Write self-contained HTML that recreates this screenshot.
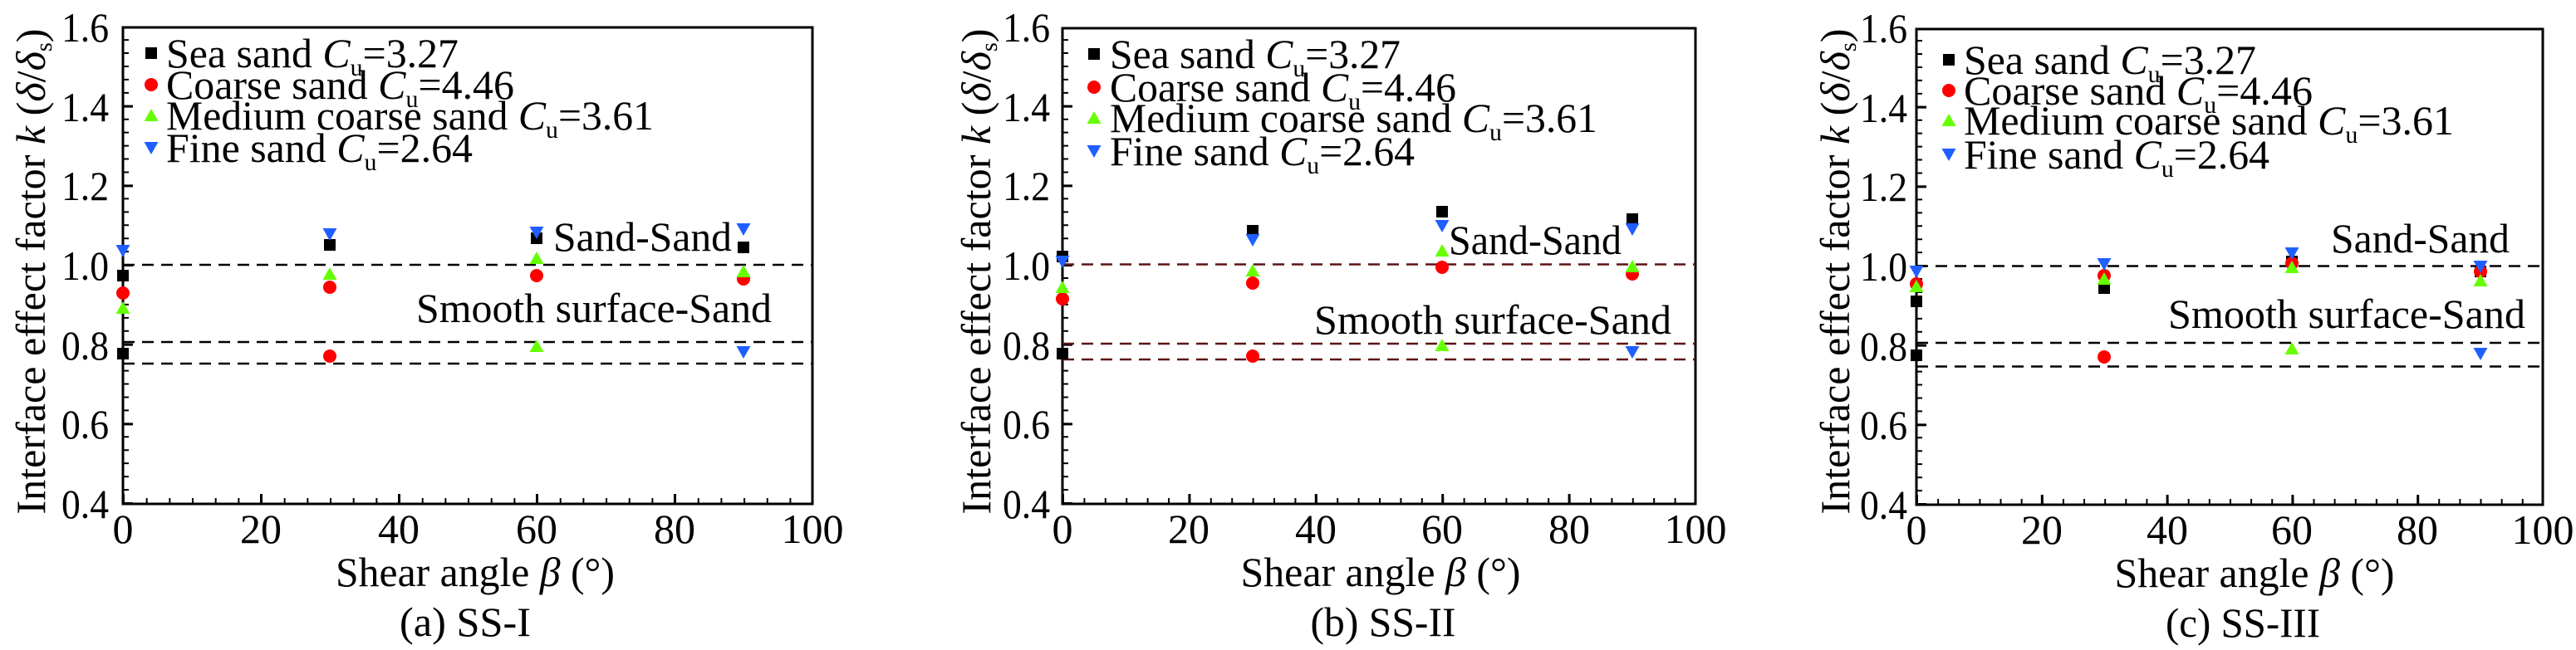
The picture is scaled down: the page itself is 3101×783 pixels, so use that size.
<!DOCTYPE html>
<html><head><meta charset="utf-8"><style>html,body{margin:0;padding:0;background:#fff}svg{display:block}svg text{font-family:"Liberation Serif",serif}</style></head><body>
<svg xmlns="http://www.w3.org/2000/svg" width="3101" height="783" viewBox="0 0 3101 783" font-family="'Liberation Serif', serif" font-size="50" fill="#000">
<defs>
<rect id="sq" x="-7" y="-7" width="14" height="14" fill="#000"/>
<circle id="ci" r="8" fill="#ff0000"/>
<path id="tu" d="M0,-8 L8.5,7 L-8.5,7Z" fill="#66ff00"/>
<path id="td" d="M0,8 L8.5,-7 L-8.5,-7Z" fill="#1f5fff"/>
</defs>

<!-- ========== Panel 1 ========== -->
<g>
<rect x="148" y="33" width="830" height="574" fill="none" stroke="#000" stroke-width="3"/>
<line x1="151.5" y1="607" x2="151.5" y2="33" stroke="#000" stroke-width="7" stroke-dasharray="2 13.94"/>
<line x1="154" y1="608" x2="154" y2="33" stroke="#000" stroke-width="12" stroke-dasharray="3 92.67"/>
<line x1="148" y1="603.5" x2="978" y2="603.5" stroke="#000" stroke-width="7" stroke-dasharray="2 25.67"/>
<line x1="147" y1="601" x2="978" y2="601" stroke="#000" stroke-width="12" stroke-dasharray="3 163"/>
<g text-anchor="end"><text x="131" y="624" textLength="57" lengthAdjust="spacingAndGlyphs">0.4</text><text x="131" y="528" textLength="57" lengthAdjust="spacingAndGlyphs">0.6</text><text x="131" y="433" textLength="57" lengthAdjust="spacingAndGlyphs">0.8</text><text x="131" y="337" textLength="57" lengthAdjust="spacingAndGlyphs">1.0</text><text x="131" y="241" textLength="57" lengthAdjust="spacingAndGlyphs">1.2</text><text x="131" y="146" textLength="57" lengthAdjust="spacingAndGlyphs">1.4</text><text x="131" y="50" textLength="57" lengthAdjust="spacingAndGlyphs">1.6</text></g>
<g text-anchor="middle"><text x="148" y="654">0</text><text x="314" y="654">20</text><text x="480" y="654">40</text><text x="646" y="654">60</text><text x="812" y="654">80</text><text x="978" y="654">100</text></g>
<text transform="translate(54,327) rotate(-90)" text-anchor="middle" textLength="585" lengthAdjust="spacingAndGlyphs">Interface effect factor <tspan font-style="italic">k</tspan> (<tspan font-style="italic">δ</tspan>/<tspan font-style="italic">δ</tspan><tspan font-size="28" dy="8">s</tspan><tspan dy="-8">)</tspan></text>
<text x="572" y="706" text-anchor="middle" textLength="336" lengthAdjust="spacingAndGlyphs">Shear angle <tspan font-style="italic">β</tspan> (°)</text>
<text x="560" y="766" text-anchor="middle" textLength="158" lengthAdjust="spacingAndGlyphs">(a) SS-I</text>
<g stroke="#000" stroke-width="2.5" stroke-dasharray="14 9"><line x1="148" y1="319" x2="978" y2="319"/><line x1="148" y1="412" x2="978" y2="412"/><line x1="148" y1="438" x2="978" y2="438"/></g>
<text x="666" y="302" textLength="215" lengthAdjust="spacingAndGlyphs">Sand-Sand</text>
<text x="501" y="388" textLength="428" lengthAdjust="spacingAndGlyphs">Smooth surface-Sand</text>
<use href="#sq" x="182" y="64"/><use href="#ci" x="182" y="102"/><use href="#tu" x="182" y="139"/><use href="#td" x="182" y="178"/>
<text x="200" y="81" textLength="352" lengthAdjust="spacingAndGlyphs">Sea sand <tspan font-style="italic">C</tspan><tspan font-size="30" dy="10">u</tspan><tspan dy="-10">=3.27</tspan></text>
<text x="200" y="119" textLength="419" lengthAdjust="spacingAndGlyphs">Coarse sand <tspan font-style="italic">C</tspan><tspan font-size="30" dy="10">u</tspan><tspan dy="-10">=4.46</tspan></text>
<text x="200" y="156" textLength="587" lengthAdjust="spacingAndGlyphs">Medium coarse sand <tspan font-style="italic">C</tspan><tspan font-size="30" dy="10">u</tspan><tspan dy="-10">=3.61</tspan></text>
<text x="200" y="195" textLength="369" lengthAdjust="spacingAndGlyphs">Fine sand <tspan font-style="italic">C</tspan><tspan font-size="30" dy="10">u</tspan><tspan dy="-10">=2.64</tspan></text>
<use href="#sq" x="148" y="332"/><use href="#sq" x="148" y="426"/><use href="#ci" x="148" y="353"/><use href="#tu" x="148" y="371"/><use href="#td" x="148" y="302"/>
<use href="#sq" x="397" y="295"/><use href="#ci" x="397" y="346"/><use href="#ci" x="397" y="429"/><use href="#tu" x="397" y="330"/><use href="#td" x="397" y="282"/>
<use href="#sq" x="646" y="287"/><use href="#ci" x="646" y="332"/><use href="#tu" x="646" y="311"/><use href="#tu" x="646" y="417"/><use href="#td" x="646" y="280"/>
<use href="#sq" x="895" y="298"/><use href="#ci" x="895" y="336"/><use href="#tu" x="895" y="327"/><use href="#td" x="895" y="276"/><use href="#td" x="895" y="424"/>
</g>

<!-- ========== Panel 2 ========== -->
<g>
<rect x="1279" y="34" width="762" height="573" fill="none" stroke="#000" stroke-width="3"/>
<line x1="1282.5" y1="607" x2="1282.5" y2="34" stroke="#000" stroke-width="7" stroke-dasharray="2 13.94"/>
<line x1="1285" y1="608" x2="1285" y2="34" stroke="#000" stroke-width="12" stroke-dasharray="3 92.67"/>
<line x1="1279" y1="603.5" x2="2041" y2="603.5" stroke="#000" stroke-width="7" stroke-dasharray="2 23.4"/>
<line x1="1278" y1="601" x2="2041" y2="601" stroke="#000" stroke-width="12" stroke-dasharray="3 149.4"/>
<g text-anchor="end"><text x="1264" y="624" textLength="57" lengthAdjust="spacingAndGlyphs">0.4</text><text x="1264" y="528" textLength="57" lengthAdjust="spacingAndGlyphs">0.6</text><text x="1264" y="433" textLength="57" lengthAdjust="spacingAndGlyphs">0.8</text><text x="1264" y="337" textLength="57" lengthAdjust="spacingAndGlyphs">1.0</text><text x="1264" y="241" textLength="57" lengthAdjust="spacingAndGlyphs">1.2</text><text x="1264" y="146" textLength="57" lengthAdjust="spacingAndGlyphs">1.4</text><text x="1264" y="50" textLength="57" lengthAdjust="spacingAndGlyphs">1.6</text></g>
<g text-anchor="middle"><text x="1279" y="654">0</text><text x="1431" y="654">20</text><text x="1584" y="654">40</text><text x="1736" y="654">60</text><text x="1889" y="654">80</text><text x="2041" y="654">100</text></g>
<text transform="translate(1192,327) rotate(-90)" text-anchor="middle" textLength="585" lengthAdjust="spacingAndGlyphs">Interface effect factor <tspan font-style="italic">k</tspan> (<tspan font-style="italic">δ</tspan>/<tspan font-style="italic">δ</tspan><tspan font-size="28" dy="8">s</tspan><tspan dy="-8">)</tspan></text>
<text x="1662" y="706" text-anchor="middle" textLength="337" lengthAdjust="spacingAndGlyphs">Shear angle <tspan font-style="italic">β</tspan> (°)</text>
<text x="1665" y="766" text-anchor="middle" textLength="175" lengthAdjust="spacingAndGlyphs">(b) SS-II</text>
<g stroke="#5c1414" stroke-width="2.5" stroke-dasharray="14 9"><line x1="1279" y1="318.5" x2="2041" y2="318.5"/><line x1="1279" y1="414" x2="2041" y2="414"/><line x1="1279" y1="433" x2="2041" y2="433"/></g>
<text x="1744" y="306" textLength="208" lengthAdjust="spacingAndGlyphs">Sand-Sand</text>
<text x="1582" y="402" textLength="430" lengthAdjust="spacingAndGlyphs">Smooth surface-Sand</text>
<use href="#sq" x="1317" y="65"/><use href="#ci" x="1317" y="105"/><use href="#tu" x="1317" y="142"/><use href="#td" x="1317" y="182"/>
<text x="1336" y="82" textLength="350" lengthAdjust="spacingAndGlyphs">Sea sand <tspan font-style="italic">C</tspan><tspan font-size="30" dy="10">u</tspan><tspan dy="-10">=3.27</tspan></text>
<text x="1336" y="122" textLength="417" lengthAdjust="spacingAndGlyphs">Coarse sand <tspan font-style="italic">C</tspan><tspan font-size="30" dy="10">u</tspan><tspan dy="-10">=4.46</tspan></text>
<text x="1336" y="159" textLength="587" lengthAdjust="spacingAndGlyphs">Medium coarse sand <tspan font-style="italic">C</tspan><tspan font-size="30" dy="10">u</tspan><tspan dy="-10">=3.61</tspan></text>
<text x="1336" y="199" textLength="367" lengthAdjust="spacingAndGlyphs">Fine sand <tspan font-style="italic">C</tspan><tspan font-size="30" dy="10">u</tspan><tspan dy="-10">=2.64</tspan></text>
<use href="#sq" x="1279" y="309"/><use href="#sq" x="1279" y="426"/><use href="#ci" x="1279" y="360"/><use href="#tu" x="1279" y="346"/><use href="#td" x="1279" y="315"/>
<use href="#sq" x="1508" y="278"/><use href="#ci" x="1508" y="341"/><use href="#ci" x="1508" y="429"/><use href="#tu" x="1508" y="326"/><use href="#td" x="1508" y="289"/>
<use href="#sq" x="1736" y="255"/><use href="#ci" x="1736" y="322"/><use href="#tu" x="1736" y="302"/><use href="#tu" x="1736" y="416"/><use href="#td" x="1736" y="272"/>
<use href="#sq" x="1965" y="264"/><use href="#ci" x="1965" y="330"/><use href="#tu" x="1965" y="321"/><use href="#td" x="1965" y="276"/><use href="#td" x="1965" y="424"/>
</g>

<!-- ========== Panel 3 ========== -->
<g>
<rect x="2307" y="35" width="754" height="573" fill="none" stroke="#000" stroke-width="3"/>
<line x1="2310.5" y1="608" x2="2310.5" y2="35" stroke="#000" stroke-width="7" stroke-dasharray="2 13.94"/>
<line x1="2313" y1="609" x2="2313" y2="35" stroke="#000" stroke-width="12" stroke-dasharray="3 92.67"/>
<line x1="2307" y1="604.5" x2="3061" y2="604.5" stroke="#000" stroke-width="7" stroke-dasharray="2 23.13"/>
<line x1="2306" y1="602" x2="3061" y2="602" stroke="#000" stroke-width="12" stroke-dasharray="3 147.8"/>
<g text-anchor="end"><text x="2296" y="625" textLength="57" lengthAdjust="spacingAndGlyphs">0.4</text><text x="2296" y="529" textLength="57" lengthAdjust="spacingAndGlyphs">0.6</text><text x="2296" y="434" textLength="57" lengthAdjust="spacingAndGlyphs">0.8</text><text x="2296" y="338" textLength="57" lengthAdjust="spacingAndGlyphs">1.0</text><text x="2296" y="242" textLength="57" lengthAdjust="spacingAndGlyphs">1.2</text><text x="2296" y="147" textLength="57" lengthAdjust="spacingAndGlyphs">1.4</text><text x="2296" y="51" textLength="57" lengthAdjust="spacingAndGlyphs">1.6</text></g>
<g text-anchor="middle"><text x="2307" y="655">0</text><text x="2458" y="655">20</text><text x="2609" y="655">40</text><text x="2759" y="655">60</text><text x="2910" y="655">80</text><text x="3061" y="655">100</text></g>
<text transform="translate(2226,327) rotate(-90)" text-anchor="middle" textLength="585" lengthAdjust="spacingAndGlyphs">Interface effect factor <tspan font-style="italic">k</tspan> (<tspan font-style="italic">δ</tspan>/<tspan font-style="italic">δ</tspan><tspan font-size="28" dy="8">s</tspan><tspan dy="-8">)</tspan></text>
<text x="2714" y="707" text-anchor="middle" textLength="337" lengthAdjust="spacingAndGlyphs">Shear angle <tspan font-style="italic">β</tspan> (°)</text>
<text x="2700" y="767" text-anchor="middle" textLength="186" lengthAdjust="spacingAndGlyphs">(c) SS-III</text>
<g stroke="#000" stroke-width="2.5" stroke-dasharray="14 9"><line x1="2307" y1="320.5" x2="3061" y2="320.5"/><line x1="2307" y1="413" x2="3061" y2="413"/><line x1="2307" y1="441.5" x2="3061" y2="441.5"/></g>
<text x="2806" y="304" textLength="215" lengthAdjust="spacingAndGlyphs">Sand-Sand</text>
<text x="2610" y="395" textLength="430" lengthAdjust="spacingAndGlyphs">Smooth surface-Sand</text>
<use href="#sq" x="2346" y="72"/><use href="#ci" x="2346" y="109"/><use href="#tu" x="2346" y="145"/><use href="#td" x="2346" y="186"/>
<text x="2364" y="89" textLength="352" lengthAdjust="spacingAndGlyphs">Sea sand <tspan font-style="italic">C</tspan><tspan font-size="30" dy="10">u</tspan><tspan dy="-10">=3.27</tspan></text>
<text x="2364" y="126" textLength="420" lengthAdjust="spacingAndGlyphs">Coarse sand <tspan font-style="italic">C</tspan><tspan font-size="30" dy="10">u</tspan><tspan dy="-10">=4.46</tspan></text>
<text x="2364" y="162" textLength="590" lengthAdjust="spacingAndGlyphs">Medium coarse sand <tspan font-style="italic">C</tspan><tspan font-size="30" dy="10">u</tspan><tspan dy="-10">=3.61</tspan></text>
<text x="2364" y="203" textLength="368" lengthAdjust="spacingAndGlyphs">Fine sand <tspan font-style="italic">C</tspan><tspan font-size="30" dy="10">u</tspan><tspan dy="-10">=2.64</tspan></text>
<use href="#sq" x="2307" y="363"/><use href="#sq" x="2307" y="428"/><use href="#ci" x="2307" y="342"/><use href="#tu" x="2307" y="345"/><use href="#td" x="2307" y="327"/>
<use href="#sq" x="2533" y="347"/><use href="#ci" x="2533" y="332"/><use href="#ci" x="2533" y="430"/><use href="#tu" x="2533" y="336"/><use href="#td" x="2533" y="318"/>
<use href="#sq" x="2759" y="315"/><use href="#ci" x="2759" y="317"/><use href="#tu" x="2759" y="322"/><use href="#tu" x="2759" y="420"/><use href="#td" x="2759" y="305"/>
<use href="#sq" x="2986" y="327"/><use href="#ci" x="2986" y="327"/><use href="#tu" x="2986" y="338"/><use href="#td" x="2986" y="321"/><use href="#td" x="2986" y="426"/>
</g>
</svg>
</body></html>
